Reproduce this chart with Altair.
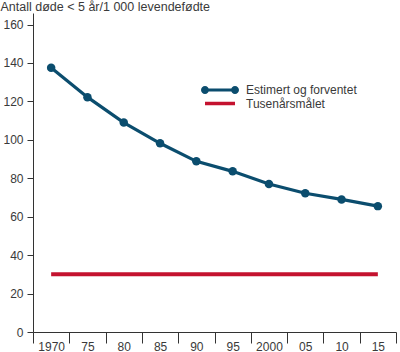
import altair as alt
import pandas as pd

years = [1970, 1975, 1980, 1985, 1990, 1995, 2000, 2005, 2010, 2015]
tick_labels = ["1970", "75", "80", "85", "90", "95", "2000", "05", "10", "15"]
estimert = [137.5, 122.2, 109, 98.2, 88.8, 83.6, 77, 72.2, 69, 65.5]
maal = [30, 30, 30, 30, 30, 30, 30, 30, 30, 30]
series_names = ["Estimert og forventet", "Tusenårsmålet"]
y_ticks = [0, 20, 40, 60, 80, 100, 120, 140, 160]
boundaries = [1967.5, 1972.5, 1977.5, 1982.5, 1987.5, 1992.5, 1997.5, 2002.5, 2007.5, 2012.5, 2017.5]

BLUE = "#0b4d6e"
RED = "#c4122f"
TXT = "#3a3a3a"

df_est = pd.DataFrame({"year": years, "value": estimert, "series": series_names[0]})
df_maal = pd.DataFrame({"year": years, "value": maal, "series": series_names[1]})

years_str = ",".join(str(y) for y in years)
labels_str = ",".join(f"'{l}'" for l in tick_labels)
label_expr = (f"indexof([{years_str}], datum.value) >= 0 ? "
              f"[{labels_str}][indexof([{years_str}], datum.value)] : ''")

x_enc = alt.X(
    "year:Q",
    scale=alt.Scale(domain=[1967.5, 2017.5], nice=False, zero=False),
    axis=alt.Axis(
        title=None,
        values=sorted(boundaries + years),
        tickCount=100,
        labelExpr=label_expr,
        labelOverlap=False,
        labelFlush=False,
        tickSize=11,
        labelPadding=-2,
        tickOpacity={"condition": {"test": "datum.value % 5 == 0", "value": 0}, "value": 1},
        grid=False,
    ),
)
y_enc = alt.Y(
    "value:Q",
    scale=alt.Scale(domain=[0, 166], nice=False),
    axis=alt.Axis(
        title="Antall døde < 5 år/1 000 levendefødte",
        titleAngle=0,
        titleAlign="left",
        titleBaseline="alphabetic",
        titleX=-33,
        titleY=-3,
        titleFontWeight="normal",
        titleFontSize=12.5,
        titleColor=TXT,
        values=y_ticks,
        tickCount=100,
        labelOverlap=False,
        tickSize=6,
        labelPadding=4,
        grid=False,
    ),
)

# filled legend symbol: bar with two dots (all counter-clockwise)
blue_path = ("M-7.5,-0.75V0.75H7.5V-0.75Z"
             "M-9.5,0A2,2 0 1,0 -5.5,0A2,2 0 1,0 -9.5,0Z"
             "M5.5,0A2,2 0 1,0 9.5,0A2,2 0 1,0 5.5,0Z")
red_path = "M-7.5,0H7.5"

blue_line = alt.Chart(df_est).mark_line(color=BLUE, strokeWidth=3.2).encode(x=x_enc, y=y_enc)

blue_points = alt.Chart(df_est).mark_circle(size=72, opacity=1).encode(
    x="year:Q",
    y="value:Q",
    color=alt.Color(
        "series:N",
        scale=alt.Scale(domain=[series_names[0]], range=[BLUE]),
        legend=alt.Legend(
            title=None, orient="none", legendX=181, legendY=71, padding=0,
            symbolType=blue_path, symbolSize=16, symbolOpacity=1,
            labelOffset=20, labelFontSize=12, labelColor=TXT,
        ),
    ),
)

red_line = alt.Chart(df_maal).mark_line(strokeWidth=4).encode(
    x="year:Q",
    y="value:Q",
    stroke=alt.Stroke(
        "series:N",
        scale=alt.Scale(domain=[series_names[1]], range=[RED]),
        legend=alt.Legend(
            title=None, orient="none", legendX=181, legendY=84.5, padding=0,
            symbolType=red_path, symbolSize=16, symbolStrokeWidth=3.5, symbolOpacity=1,
            labelOffset=20, labelFontSize=12, labelColor=TXT,
        ),
    ),
)

chart = alt.layer(red_line, blue_line, blue_points).properties(
    width=363,
    height=319,
    autosize=alt.AutoSizeParams(type="none"),
    padding={"left": 33, "top": 13, "right": 4, "bottom": 20},
).configure(
    font="Liberation Sans",
).configure_view(
    stroke=None,
).configure_axis(
    domainColor="#333333",
    tickColor="#333333",
    labelColor=TXT,
    labelFontSize=12,
    labelFont="Liberation Sans",
    domainWidth=1,
    tickWidth=1,
)

chart.save("out.html", embed_options={"renderer": "svg", "actions": False})
